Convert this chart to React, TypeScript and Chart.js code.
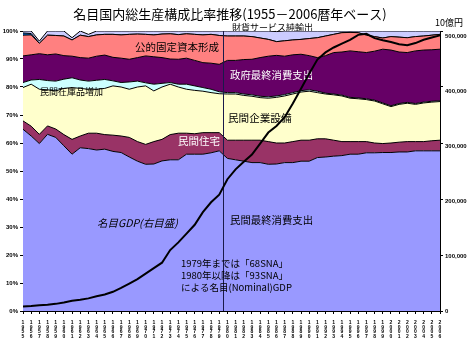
import React, { useEffect, useRef } from 'react';
import { Chart, registerables } from 'chart.js';

Chart.register(...registerables);

const years = [
  '1955', '1956', '1957', '1958', '1959', '1960', '1961', '1962', '1963', '1964',
  '1965', '1966', '1967', '1968', '1969', '1970', '1971', '1972', '1973', '1974',
  '1975', '1976', '1977', '1978', '1979', '1980', '1981', '1982', '1983', '1984',
  '1985', '1986', '1987', '1988', '1989', '1990', '1991', '1992', '1993', '1994',
  '1995', '1996', '1997', '1998', '1999', '2000', '2001', '2002', '2003', '2004',
  '2005', '2006',
];

// 構成比 (%)
const privateConsumption = [
  64.9, 62.5, 59.8, 63.1, 62.0, 59.0, 56.0, 58.3, 58.0, 57.5,
  57.8, 57.0, 56.6, 55.0, 53.5, 52.4, 52.5, 53.6, 54.0, 54.0,
  56.0, 56.0, 56.0, 56.5, 57.2, 54.5, 54.0, 53.5, 53.0, 53.0,
  52.4, 52.5, 53.0, 53.0, 53.5, 53.5, 54.8, 55.0, 55.3, 55.5,
  56.0, 56.0, 56.5, 56.5, 56.6, 56.6, 56.8, 56.8, 57.2, 57.2,
  57.2, 57.2,
];
const privateHousing = [
  3.0, 3.5, 3.3, 3.0, 3.0, 4.0, 5.3, 4.2, 5.5, 6.0,
  5.2, 5.8, 5.9, 7.0, 7.0, 7.1, 8.0, 7.7, 9.0, 9.5,
  7.5, 7.3, 7.7, 7.2, 6.5, 6.5, 7.0, 7.5, 8.0, 8.0,
  8.1, 7.5, 7.0, 7.5, 7.5, 7.5, 6.7, 6.5, 5.7, 5.0,
  4.5, 4.5, 4.0, 3.5, 3.2, 3.4, 3.5, 3.7, 3.3, 3.3,
  3.6, 3.8,
];
const privateInvestment = [
  11.9, 15.0, 16.1, 12.9, 13.6, 16.5, 18.5, 17.0, 15.7, 15.7,
  16.5, 17.6, 17.5, 17.2, 19.5, 20.9, 18.1, 18.7, 18.0, 16.5,
  15.7, 15.5, 14.8, 14.3, 13.9, 16.5, 16.5, 16.0, 15.7, 15.2,
  15.5, 16.3, 16.8, 17.0, 17.2, 17.5, 16.5, 16.0, 16.2, 16.3,
  15.5, 15.3, 15.0, 15.0, 14.2, 13.0, 13.5, 13.7, 13.3, 13.8,
  13.8, 13.8,
];
const privateInventory = [
  1.8, 1.5, 3.5, 3.3, 3.5, 3.3, 3.5, 3.0, 2.9, 3.2,
  3.2, 1.8, 1.6, 2.6, 2.1, 1.1, 2.4, 1.3, 0.6, 1.0,
  1.8, 1.6, 1.3, 1.2, 0.7, 0.5, 0.5, 0.5, 0.5, 0.5,
  0.5, 0.5, 0.5, 0.5, 0.5, 0.5, 0.5, 0.3, 0.3, 0.3,
  0.3, 0.3, 0.3, 0.3, 0.3, 0.3, 0.3, 0.3, 0.3, 0.3,
  0.3, 0.3,
];
const governmentConsumption = [
  9.5, 9.0, 9.2, 9.2, 9.7, 8.4, 7.7, 8.0, 8.2, 8.6,
  8.7, 8.4, 8.7, 8.1, 8.4, 9.6, 9.8, 9.2, 8.4, 8.9,
  9.3, 9.1, 8.9, 9.3, 9.8, 11.5, 11.5, 12.3, 12.7, 13.8,
  14.5, 14.5, 13.7, 13.5, 13.0, 12.2, 12.0, 13.4, 14.8, 15.4,
  16.6, 16.5, 16.5, 17.5, 19.2, 19.9, 18.4, 17.8, 18.8, 18.6,
  18.4, 18.4,
];
const publicInvestment = [
  7.4, 7.1, 3.7, 7.0, 6.6, 7.0, 5.8, 8.0, 7.7, 7.6,
  7.4, 8.2, 8.3, 8.9, 8.4, 7.7, 7.8, 8.4, 9.0, 8.8,
  8.7, 9.3, 9.9, 10.3, 10.3, 8.7, 8.7, 8.4, 8.1, 7.0,
  6.0, 4.9, 5.5, 5.3, 5.3, 6.1, 7.1, 7.0, 6.5, 6.9,
  6.6, 6.8, 6.2, 5.2, 4.0, 4.8, 5.3, 5.3, 5.1, 5.0,
  5.2, 5.3,
];
const publicInventory = [
  0.8, 0.5, 0, 0, 0, 0, 0, 0, 0, 0,
  0, 0, 0, 0, 0, 0, 0, 0, 0, 0,
  0, 0, 0, 0, 0, 0, 0, 0, 0, 0,
  0, 0, 0, 0, 0, 0, 0, 0, 0, 0,
  0, 0, 0, 0, 0, 0, 0, 0, 0, 0,
  0, 0,
];
const netExports = [
  0.7, 0.9, 0.8, 1.5, 1.6, 1.8, 0.8, 1.5, 0.8, 1.4,
  1.2, 1.2, 1.4, 1.2, 1.1, 1.2, 1.4, 1.1, 1.0, 1.3,
  1.0, 1.2, 1.4, 1.2, 1.6, 1.8, 1.8, 1.8, 2.0, 2.5,
  3.0, 3.6, 3.5, 3.2, 3.0, 2.7, 2.4, 1.8, 1.2, 0.6,
  0.5, 0.6, 1.5, 2.0, 2.5, 2.0, 2.2, 2.4, 2.0, 1.8,
  1.5, 1.2,
];
// 名目GDP (10億円)
const nominalGDP = [
  8000, 9000, 10500, 11500, 13000, 15500, 18500, 20500, 23000, 27000,
  30000, 35000, 42000, 50000, 58000, 68000, 78000, 88000, 111000, 125000,
  141000, 157000, 180000, 198000, 212000, 240000, 258000, 272000, 285000, 305000,
  325000, 337000, 353000, 378000, 405000, 432000, 458000, 471000, 480000, 487000,
  494000, 503000, 505000, 497000, 493000, 490000, 486000, 484000, 488000, 494000,
  498000, 502000,
];
const gdpTicks = [0, 100000, 200000, 300000, 400000, 500000];

const seriesNames = [
  '民間最終消費支出', '民間住宅', '民間企業設備', '民間在庫品増加',
  '政府最終消費支出', '公的固定資本形成', '公的在庫品増加', '財貨サービス純輸出',
];
const seriesColors = [
  '#9999FF', '#993366', '#FFFFCC', '#CCFFFF', '#660066', '#FF8080', '#0066CC', '#CCCCFF',
];

const TITLE = '名目国内総生産構成比率推移(1955－2006暦年ベース)';
const UNIT = '10億円';
const SNA_NOTE = ['1979年までは「68SNA」', '1980年以降は「93SNA」', 'による名目(Nominal)GDP'];
const SNA_BREAK = 24.5; // 1979 と 1980 の間

const JP = '"Noto Sans CJK JP", "Noto Sans CJK SC", sans-serif';
const NUM = '"Liberation Sans", Arial, sans-serif';

export default function App() {
  const ref = useRef<HTMLCanvasElement>(null);

  useEffect(() => {
    const canvas = ref.current;
    if (!canvas) return;

    const text = (ctx: CanvasRenderingContext2D, s: string, x: number, y: number, font: string, color: string, align: CanvasTextAlign = 'left') => {
      ctx.font = font;
      ctx.fillStyle = color;
      ctx.textAlign = align;
      ctx.textBaseline = 'middle';
      ctx.fillText(s, x, y);
    };

    const annotations = {
      id: 'annotations',
      beforeDatasetsDraw(chart: any) {
        const ctx = chart.ctx as CanvasRenderingContext2D;
        ctx.save();
        text(ctx, seriesNames[7], 232, 28, `9px ${JP}`, '#000');
        ctx.restore();
      },
      afterDatasetDraw(chart: any, args: any) {
        if (args.index !== 0) return;
        const ctx = chart.ctx as CanvasRenderingContext2D;
        const area = chart.chartArea;
        const xs = chart.scales.x;
        ctx.save();
        const bx = Math.round(xs.getPixelForValue(SNA_BREAK)) + 0.5;
        ctx.strokeStyle = '#1a1a4a';
        ctx.lineWidth = 1;
        ctx.beginPath();
        ctx.moveTo(bx, area.top);
        ctx.lineTo(bx, area.bottom);
        ctx.stroke();

        text(ctx, seriesNames[5], 135, 47, `10.5px ${JP}`, '#000');
        text(ctx, seriesNames[4], 230, 75, `10.4px ${JP}`, '#fff');
        text(ctx, seriesNames[2], 228, 118, `10.6px ${JP}`, '#000');
        text(ctx, seriesNames[3], 40, 92, `9px ${JP}`, '#000');
        text(ctx, seriesNames[1], 178, 141, `10.5px ${JP}`, '#fff');
        text(ctx, seriesNames[0], 230, 220, `10.4px ${JP}`, '#000');
        text(ctx, '名目GDP(右目盛)', 97, 223, `italic 10.5px ${JP}`, '#000');
        SNA_NOTE.forEach((s, i) => text(ctx, s, 181, 263 + i * 12, `9.5px ${JP}`, '#000'));
        ctx.restore();
      },
      afterDraw(chart: any) {
        const ctx = chart.ctx as CanvasRenderingContext2D;
        const y1 = chart.scales.y1;
        ctx.save();
        text(ctx, TITLE, 230, 14, `13px ${JP}`, '#000', 'center');
        text(ctx, UNIT, 435, 23, `9px ${JP}`, '#000');
        // 右目盛りのラベル
        gdpTicks.forEach((v) => {
          text(ctx, v.toLocaleString('en-US'), y1.right - 25, y1.getPixelForValue(v), `bold 6px ${NUM}`, '#000');
        });
        ctx.restore();
      },
    };

    const shares = [
      privateConsumption, privateHousing, privateInvestment, privateInventory,
      governmentConsumption, publicInvestment, publicInventory, netExports,
    ];

    const areaSets = shares.map((data, i) => ({
      type: 'line' as const,
      label: seriesNames[i],
      data,
      yAxisID: 'y',
      backgroundColor: seriesColors[i],
      borderColor: '#000',
      borderWidth: 1,
      pointRadius: 0,
      tension: 0,
      fill: i === 0 ? 'origin' : '-1',
      order: 0,
    }));

    const chart = new Chart(canvas, {
      type: 'line',
      data: {
        labels: years,
        datasets: [
          ...areaSets,
          {
            type: 'line' as const,
            label: '名目GDP',
            data: nominalGDP,
            yAxisID: 'y1',
            borderColor: '#000',
            borderWidth: 2,
            pointRadius: 0,
            tension: 0,
            fill: false,
            order: -1,
          },
        ] as any,
      },
      options: {
        responsive: false,
        animation: false,
        layout: { padding: { top: 31, left: 0, right: 0, bottom: 0 } },
        plugins: {
          legend: { display: false },
          tooltip: { enabled: false },
          title: { display: false },
        },
        scales: {
          x: {
            type: 'category',
            offset: false,
            grid: { display: true, drawOnChartArea: false, drawTicks: true, tickLength: 3, color: '#000' },
            border: { display: true, color: '#000' },
            ticks: {
              autoSkip: false,
              maxRotation: 0,
              minRotation: 0,
              padding: 6,
              color: '#000',
              font: { size: 5, family: NUM, weight: 'bold', lineHeight: 0.95 },
              callback: (_v: any, i: number) => years[i].split(''),
            },
            afterFit: (s: any) => { s.height = 39; },
          },
          y: {
            type: 'linear',
            position: 'left',
            stacked: true,
            min: 0,
            max: 100,
            grid: { display: true, drawOnChartArea: false, drawTicks: true, tickLength: 3, color: '#000' },
            border: { display: true, color: '#000' },
            ticks: {
              stepSize: 10,
              padding: 2,
              color: '#000',
              font: { size: 6, family: NUM, weight: 'bold' },
              callback: (v: any) => `${v}%`,
            },
            afterFit: (s: any) => { s.width = 23; },
          },
          y1: {
            type: 'linear',
            position: 'right',
            stacked: false,
            min: 0,
            max: 510000,
            grid: { display: true, drawOnChartArea: false, drawTicks: true, tickLength: 3, color: '#000' },
            border: { display: true, color: '#000' },
            ticks: {
              stepSize: 100000,
              color: 'rgba(0,0,0,0)',
              font: { size: 6, family: NUM },
            },
            afterFit: (s: any) => { s.width = 30; },
          },
        },
      } as any,
      plugins: [annotations],
    });

    return () => chart.destroy();
  }, []);

  return (
    <div style={{ position: 'absolute', left: 0, top: 0, width: 470, height: 350, background: '#fff' }}>
      <canvas ref={ref} width={470} height={350} style={{ width: 470, height: 350, display: 'block' }} />
    </div>
  );
}
